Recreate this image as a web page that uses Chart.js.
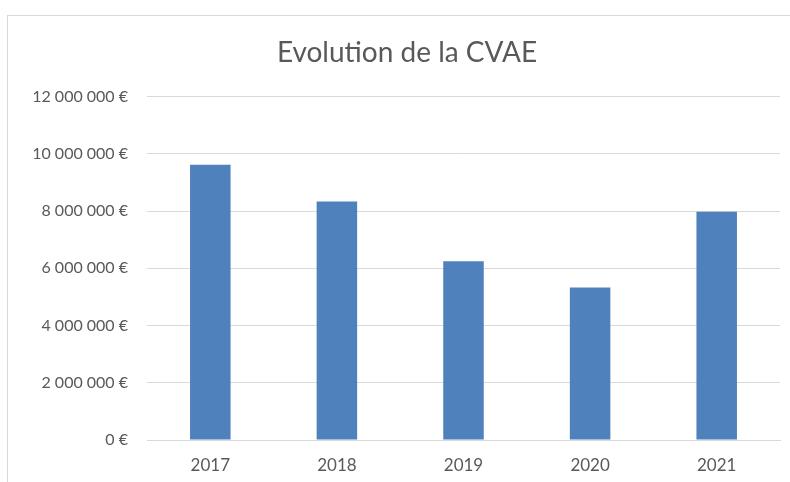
<!DOCTYPE html>
<html>
<head>
<meta charset="utf-8">
<script src="https://cdn.jsdelivr.net/npm/chart.js@4"></script>
<style>
  html, body { margin: 0; padding: 0; background: #fff; overflow: hidden; }
  #frame { position: absolute; left: 7px; top: 15px; width: 820px; height: 520px; border: 1px solid #d9d9d9; }
  #wrap { position: absolute; left: 0; top: 0; width: 790px; height: 482px; }
</style>
</head>
<body>
<div id="frame"></div>
<div id="wrap"><canvas id="bar-chart"></canvas></div>
<script>
// CVAE par année
const years = ['2017', '2018', '2019', '2020', '2021'];
const cvae = [9620000, 8330000, 6250000, 5330000, 7980000];
const yTicks = [0, 2000000, 4000000, 6000000, 8000000, 10000000, 12000000];

function euro(v) {
  return String(v).replace(/\B(?=(\d{3})+(?!\d))/g, ' ') + ' €';
}

var ctx = document.getElementById("bar-chart");
var chart = new Chart(ctx, {
  type: 'bar',
  data: {
    labels: years,
    datasets: [{
      label: 'CVAE',
      data: cvae,
      backgroundColor: '#4f81bd',
      barPercentage: 1,
      categoryPercentage: 0.32
    }]
  },
  options: {
    responsive: true,
    maintainAspectRatio: false,
    animation: false,
    layout: { padding: { left: 34, right: 10, top: 20, bottom: 0 } },
    plugins: {
      legend: { display: false },
      tooltip: { enabled: false },
      title: {
        display: true,
        text: 'Evolution de la CVAE',
        color: '#595959',
        font: { family: 'Lato', size: 28, weight: 'normal' },
        padding: { top: 16, bottom: 27 }
      }
    },
    scales: {
      x: {
        afterFit: function(scale) { scale.height = 42; },
        grid: { display: false, drawTicks: false },
        border: { color: '#d9d9d9' },
        ticks: { color: '#595959', font: { family: 'Lato', size: 17 }, padding: 15 }
      },
      y: {
        min: 0,
        max: 12000000,
        afterBuildTicks: function(scale) {
          scale.ticks = yTicks.map(function(v) { return { value: v }; });
        },
        afterFit: function(scale) { scale.width = 113; },
        grid: { color: '#d9d9d9', drawTicks: false },
        border: { display: false },
        ticks: {
          color: '#595959',
          font: { family: 'Lato', size: 16 },
          padding: 19,
          callback: function(v) { return euro(v); }
        }
      }
    }
  }
});
</script>
</body>
</html>
